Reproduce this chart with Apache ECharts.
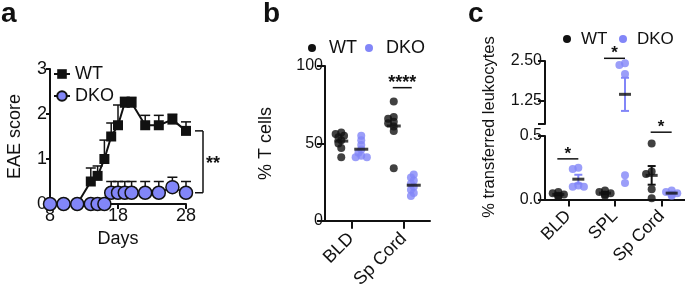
<!DOCTYPE html>
<html>
<head>
<meta charset="utf-8">
<script src="https://cdn.jsdelivr.net/npm/echarts@6/dist/echarts.min.js"></script>
<style>
  html, body { margin: 0; padding: 0; background: #fff; }
  #main { width: 685px; height: 291px; }
</style>
</head>
<body>
<div id="main"></div>
<script>
// ---- panel a: EAE score over time
const days = [8, 10, 12, 14, 15, 16, 17, 18, 19, 20, 22, 24, 26, 28];
const wtScore = [0, 0, 0, 0.5, 0.625, 1.0, 1.5, 1.75, 2.25, 2.25, 1.75, 1.75, 1.875, 1.625];
const wtScoreErr = [0, 0, 0, 0.3, 0.22, 0.42, 0.3, 0.45, 0.12, 0.12, 0.22, 0.22, 0.12, 0.2];
const dkoScore = [0, 0, 0, 0, 0, 0, 0.25, 0.25, 0.25, 0.25, 0.25, 0.25, 0.375, 0.25];
const dkoScoreErr = [0, 0, 0, 0, 0, 0, 0.25, 0.25, 0.25, 0.25, 0.25, 0.25, 0.22, 0.25];
const scoreSig = '**';

// ---- panel b: % T cells
const tCellCats = ['BLD', 'Sp Cord'];
const tCellWT = [[57, 56, 55, 54, 52, 50, 47, 41], [77, 67, 66, 64, 63, 61, 58, 34]];
const tCellDKO = [[55, 52, 49, 46, 44, 42, 41, 41], [30, 28, 26, 24, 22, 20, 18, 16]];
const tCellSigCat = [1];
const tCellSigY = [86];
const tCellSigText = ['****'];

// ---- panel c: % transferred leukocytes (broken axis)
const leukoCats = ['BLD', 'SPL', 'Sp Cord'];
const leukoWT = [[0.06, 0.05, 0.04, 0.03, 0.02], [0.07, 0.06, 0.05, 0.04, 0.03], [0.44, 0.22, 0.20, 0.08, 0.01]];
const leukoDKO = [[0.25, 0.24, 0.11, 0.10, 0.10], [2.43, 2.37, 2.09, 0.19, 0.13], [0.07, 0.06, 0.05, 0.04, 0.03]];
const leukoSigCat = [0, 1, 2];
const leukoSigY = [0.32, 2.585, 0.53];
const leukoSigText = ['*', '*', '*'];
const leukoBreak = 0.5;

const FONT = 'Liberation Sans, Arial, Helvetica, sans-serif';
const INK = '#111';
const BLUE = '#8286f8';

const chart = echarts.init(document.getElementById('main'));

function mean(a) { return a.reduce((s, v) => s + v, 0) / a.length; }
function sem(a) {
  const m = mean(a);
  return Math.sqrt(a.reduce((s, v) => s + (v - m) * (v - m), 0) / (a.length - 1) / a.length);
}

// small beeswarm so dots in a column don't sit exactly on top of each other
function swarm(values, pxPerUnit, size) {
  const placed = [];
  return values.map(v => {
    const y = v * pxPerUnit;
    for (const s of [0, -1, 1, -2, 2, -3, 3]) {
      const x = s * size * 0.35;
      if (placed.every(p => Math.hypot(p[0] - x, p[1] - y) >= size * 0.5)) {
        placed.push([x, y]);
        return x;
      }
    }
    return 0;
  });
}

function dotData(groups, offset, pxPerUnit, keep) {
  const out = [];
  groups.forEach((vals, i) => {
    const jit = swarm(vals, pxPerUnit, 8);
    vals.forEach((v, k) => {
      if (keep(v)) out.push({ value: [i, v], symbolOffset: [offset + jit[k], 0] });
    });
  });
  return out;
}

function line(x1, y1, x2, y2, color, w) {
  return { type: 'line', shape: { x1, y1, x2, y2 }, style: { stroke: color, lineWidth: w } };
}

function upperErr(params, api) {
  const e = api.value(2);
  if (!e) return;
  const p0 = api.coord([api.value(0), api.value(1)]);
  const p1 = api.coord([api.value(0), api.value(1) + e]);
  return { type: 'group', children: [
    line(p0[0], p0[1], p1[0], p1[1], INK, 1.5),
    line(p1[0] - 5, p1[1], p1[0] + 5, p1[1], INK, 1.5)
  ] };
}

function semBars(offset, color) {
  return function (params, api) {
    const i = api.value(0), m = api.value(1), e = api.value(2);
    const top = api.coord([i, m + e]);
    const bot = api.coord([i, m - e]);
    const x = top[0] + offset;
    return { type: 'group', children: [
      line(x, top[1], x, bot[1], color, 2),
      line(x - 4, top[1], x + 4, top[1], color, 2),
      line(x - 4, bot[1], x + 4, bot[1], color, 2)
    ] };
  };
}

function sigRender(from, to, size) {
  return function (params, api) {
    const p = api.coord([api.value(0), api.value(1)]);
    return { type: 'group', children: [
      line(p[0] + from, p[1], p[0] + to, p[1], INK, 1.5),
      { type: 'text', x: p[0] + (from + to) / 2, y: p[1] - 5,
        style: { text: api.value(2), fill: INK, font: 'bold ' + size + 'px ' + FONT, align: 'center', verticalAlign: 'middle' } }
    ] };
  };
}

const axisLine = { show: true, onZero: false, lineStyle: { color: INK, width: 2 } };
function ticks(len) { return { show: true, length: len, lineStyle: { color: INK, width: 2 } }; }
function labels(size, extra) { return Object.assign({ color: INK, fontSize: size, fontFamily: FONT }, extra || {}); }

const WT_OFF = -10, DKO_OFF = 10;
const bPx = 155 / 100, cLowPx = 63.5 / 0.5, cTopPx = 63 / 2;

const option = {
  backgroundColor: '#fff',
  animation: false,
  textStyle: { fontFamily: FONT },
  grid: [
    { left: 50, top: 69, width: 136, height: 135 },
    { left: 325, top: 66, width: 105, height: 155 },
    { left: 545, top: 61, width: 140, height: 63 },
    { left: 545, top: 136, width: 140, height: 63.5 }
  ],
  xAxis: [
    { type: 'value', gridIndex: 0, min: 8, max: 28, interval: 10, splitLine: { show: false },
      axisLine, axisTick: ticks(5), axisLabel: labels(18, { margin: 3 }),
      name: 'Days', nameLocation: 'middle', nameGap: 26, nameTextStyle: labels(18) },
    { type: 'category', gridIndex: 1, data: tCellCats, axisLine, axisTick: Object.assign(ticks(8), { alignWithLabel: true }),
      axisLabel: labels(18, { rotate: 45, margin: 15, interval: 0 }) },
    { type: 'category', gridIndex: 2, data: leukoCats, show: false },
    { type: 'category', gridIndex: 3, data: leukoCats, axisLine, axisTick: Object.assign(ticks(7), { alignWithLabel: true }),
      axisLabel: labels(17.5, { rotate: 45, margin: 14, interval: 0 }) }
  ],
  yAxis: [
    { type: 'value', gridIndex: 0, min: 0, max: 3, interval: 1, splitLine: { show: false },
      axisLine, axisTick: ticks(4), axisLabel: labels(18, { margin: 3 }),
      name: 'EAE score', nameLocation: 'middle', nameGap: 26, nameTextStyle: labels(18) },
    { type: 'value', gridIndex: 1, min: 0, max: 100, interval: 50, splitLine: { show: false },
      axisLine, axisTick: ticks(8), axisLabel: labels(16, { margin: 2 }),
      name: '% T cells', nameLocation: 'middle', nameGap: 50, nameTextStyle: labels(18) },
    { type: 'value', gridIndex: 2, min: leukoBreak, max: 2.5, splitLine: { show: false },
      axisLine, axisTick: Object.assign(ticks(7), { customValues: [0.5, 1.25, 2.5] }),
      axisLabel: labels(16, { margin: 3, customValues: [1.25, 2.5], formatter: v => v.toFixed(2) }) },
    { type: 'value', gridIndex: 3, min: 0, max: leukoBreak, interval: 0.5, splitLine: { show: false },
      axisLine, axisTick: ticks(7), axisLabel: labels(16, { margin: 3, formatter: v => v.toFixed(1) }) }
  ],
  legend: {
    data: ['WT', 'DKO'], orient: 'vertical', left: 53, top: 65, padding: 0,
    itemWidth: 16, itemHeight: 12, itemGap: 4,
    textStyle: labels(18), selectedMode: false
  },
  graphic: [
    { type: 'text', left: 1, top: 0, style: { text: 'a', font: 'bold 28px ' + FONT, fill: INK } },
    { type: 'text', left: 263, top: 0, style: { text: 'b', font: 'bold 28px ' + FONT, fill: INK } },
    { type: 'text', left: 468, top: 0, style: { text: 'c', font: 'bold 28px ' + FONT, fill: INK } },
    // legend b
    { type: 'circle', shape: { cx: 312, cy: 48, r: 4 }, style: { fill: INK } },
    { type: 'text', x: 329, y: 48, style: { text: 'WT', font: '18px ' + FONT, fill: INK, verticalAlign: 'middle' } },
    { type: 'circle', shape: { cx: 369, cy: 48, r: 4 }, style: { fill: BLUE } },
    { type: 'text', x: 386, y: 48, style: { text: 'DKO', font: '18px ' + FONT, fill: INK, verticalAlign: 'middle' } },
    // legend c
    { type: 'circle', shape: { cx: 567, cy: 39, r: 4 }, style: { fill: INK } },
    { type: 'text', x: 581, y: 39, style: { text: 'WT', font: '17px ' + FONT, fill: INK, verticalAlign: 'middle' } },
    { type: 'circle', shape: { cx: 623, cy: 39, r: 4 }, style: { fill: BLUE } },
    { type: 'text', x: 637, y: 39, style: { text: 'DKO', font: '17px ' + FONT, fill: INK, verticalAlign: 'middle' } },
    // c axis title spans both segments
    { type: 'text', x: 489, y: 127, rotation: Math.PI / 2,
      style: { text: '% transferred leukocytes', font: '16.5px ' + FONT, fill: INK, align: 'center', verticalAlign: 'middle' } }
  ],
  series: []
};

const S = option.series;

// panel a
S.push({ type: 'custom', xAxisIndex: 0, yAxisIndex: 0, z: 1, renderItem: upperErr,
  data: days.map((d, i) => [d, wtScore[i], wtScoreErr[i]]) });
S.push({ type: 'custom', xAxisIndex: 0, yAxisIndex: 0, z: 1, renderItem: upperErr,
  data: days.map((d, i) => [d, dkoScore[i], dkoScoreErr[i]]) });
S.push({ name: 'WT', type: 'line', xAxisIndex: 0, yAxisIndex: 0, z: 3, symbol: 'rect', symbolSize: 10,
  itemStyle: { color: INK }, lineStyle: { color: INK, width: 2 },
  data: days.map((d, i) => [d, wtScore[i]]) });
S.push({ name: 'DKO', type: 'line', xAxisIndex: 0, yAxisIndex: 0, z: 4, symbol: 'circle', symbolSize: 13,
  itemStyle: { color: BLUE, borderColor: INK, borderWidth: 1.5 }, lineStyle: { color: INK, width: 1.5 },
  data: days.map((d, i) => [d, dkoScore[i]]) });
S.push({ type: 'custom', xAxisIndex: 0, yAxisIndex: 0, z: 2,
  data: [[days[days.length - 1], wtScore[wtScore.length - 1], dkoScore[dkoScore.length - 1], scoreSig]],
  renderItem: (params, api) => {
    const a = api.coord([api.value(0), api.value(1)]);
    const b = api.coord([api.value(0), api.value(2)]);
    const x = a[0] + 17;
    return { type: 'group', children: [
      line(x, a[1], x, b[1], INK, 1.5),
      line(x - 8, a[1], x, a[1], INK, 1.5),
      line(x - 8, b[1], x, b[1], INK, 1.5),
      { type: 'text', x: x + 3, y: (a[1] + b[1]) / 2 + 2,
        style: { text: api.value(3), fill: INK, font: 'bold 18px ' + FONT, verticalAlign: 'middle' } }
    ] };
  } });

// panel b
S.push({ type: 'scatter', xAxisIndex: 1, yAxisIndex: 1, symbolSize: 8, itemStyle: { color: INK },
  data: dotData(tCellWT, WT_OFF, bPx, () => true) });
S.push({ type: 'scatter', xAxisIndex: 1, yAxisIndex: 1, symbolSize: 8, itemStyle: { color: BLUE },
  data: dotData(tCellDKO, DKO_OFF, bPx, () => true) });
S.push({ type: 'scatter', xAxisIndex: 1, yAxisIndex: 1, z: 5, symbol: 'rect', symbolSize: [14, 3], itemStyle: { color: INK },
  data: tCellWT.map((g, i) => ({ value: [i, mean(g)], symbolOffset: [WT_OFF, 0] }))
    .concat(tCellDKO.map((g, i) => ({ value: [i, mean(g)], symbolOffset: [DKO_OFF, 0] }))) });
S.push({ type: 'custom', xAxisIndex: 1, yAxisIndex: 1, renderItem: sigRender(-11, 8, 18),
  data: tCellSigCat.map((c, i) => [c, tCellSigY[i], tCellSigText[i]]) });

// panel c: each group split between the top (> break) and bottom segment
[[2, v => v > leukoBreak], [3, v => v <= leukoBreak]].forEach(([ax, keep]) => {
  S.push({ type: 'scatter', xAxisIndex: ax, yAxisIndex: ax, symbolSize: 8, itemStyle: { color: INK },
    data: dotData(leukoWT, WT_OFF, ax === 2 ? cTopPx : cLowPx, keep) });
  S.push({ type: 'scatter', xAxisIndex: ax, yAxisIndex: ax, symbolSize: 8, itemStyle: { color: BLUE },
    data: dotData(leukoDKO, DKO_OFF, ax === 2 ? cTopPx : cLowPx, keep) });
  [[leukoWT, WT_OFF, INK], [leukoDKO, DKO_OFF, BLUE]].forEach(([groups, off, color]) => {
    const stats = groups.map((g, i) => [i, mean(g), sem(g)]).filter(s => keep(s[1]));
    S.push({ type: 'custom', xAxisIndex: ax, yAxisIndex: ax, z: 4, renderItem: semBars(off, color), data: stats });
    S.push({ type: 'scatter', xAxisIndex: ax, yAxisIndex: ax, z: 5, symbol: 'rect', symbolSize: [12, 3],
      itemStyle: { color: INK }, data: stats.map(s => ({ value: [s[0], s[1]], symbolOffset: [off, 0] })) });
  });
  S.push({ type: 'custom', xAxisIndex: ax, yAxisIndex: ax, renderItem: sigRender(-11, 10, 17),
    data: leukoSigCat.map((c, i) => [c, leukoSigY[i], leukoSigText[i]])
      .filter(s => keep(Math.max(...leukoWT[s[0]], ...leukoDKO[s[0]]))) });
});

chart.setOption(option);
</script>
</body>
</html>
